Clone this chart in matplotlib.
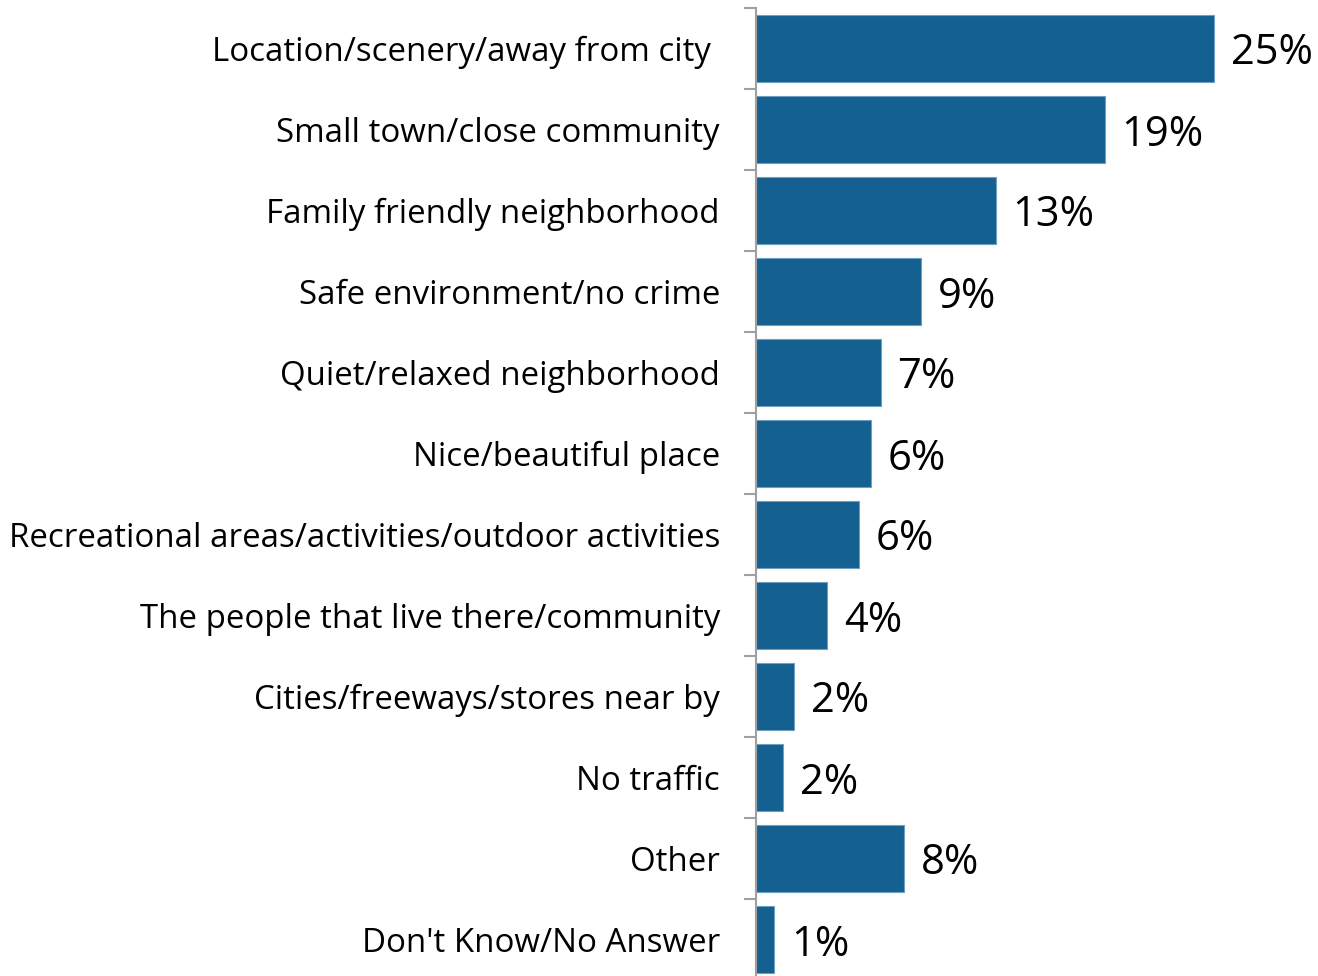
import matplotlib
matplotlib.use("Agg")
import matplotlib.pyplot as plt
import numpy as np

categories = [
    "Location/scenery/away from city ",
    "Small town/close community",
    "Family friendly neighborhood",
    "Safe environment/no crime",
    "Quiet/relaxed neighborhood",
    "Nice/beautiful place",
    "Recreational areas/activities/outdoor activities",
    "The people that live there/community",
    "Cities/freeways/stores near by",
    "No traffic",
    "Other",
    "Don't Know/No Answer",
]
values = [25.0, 19.05, 13.1, 9.0, 6.8, 6.3, 5.6, 3.9, 2.1, 1.5, 8.1, 1.0]
value_labels = ["25%", "19%", "13%", "9%", "7%", "6%", "6%", "4%", "2%", "2%", "8%", "1%"]

plt.rcParams['font.family'] = ['Open Sans', 'DejaVu Sans']

W, H = 1318, 976
fig = plt.figure(figsize=(W / 100, H / 100), dpi=100)
left_px, top_px, bottom_px = 756, 8, 980
ax = fig.add_axes([left_px / W, (H - bottom_px) / H, 1 - left_px / W, (bottom_px - top_px) / H])

n = len(categories)
y = np.arange(n)
ax.barh(y, values, height=0.83, color="#146090", edgecolor="#6f9fc0", linewidth=0.8, zorder=2)
ax.set_ylim(n - 0.5, -0.5)
ax.set_xlim(0, 562 / 18.32)

for yi, v, lab in zip(y, values, value_labels):
    ax.annotate(lab, (v, yi), xytext=(12, 0), textcoords="offset points",
                va="center_baseline", ha="left", fontsize=30, color="black")

ax.set_yticks(y)
ax.set_yticklabels(categories, fontsize=23.8)
for t in ax.get_yticklabels():
    t.set_verticalalignment("center_baseline")
ax.tick_params(axis="y", which="major", length=0, pad=26)
ax.set_yticks(np.arange(-0.5, n, 1.0), minor=True)
ax.tick_params(axis="y", which="minor", length=8.6, width=1.5, color="#a0a0a0")
ax.set_xticks([])

for s in ["top", "right", "bottom"]:
    ax.spines[s].set_visible(False)
ax.spines["left"].set_color("#a0a0a0")
ax.spines["left"].set_linewidth(1.5)

fig.savefig("out.png", dpi=100)
